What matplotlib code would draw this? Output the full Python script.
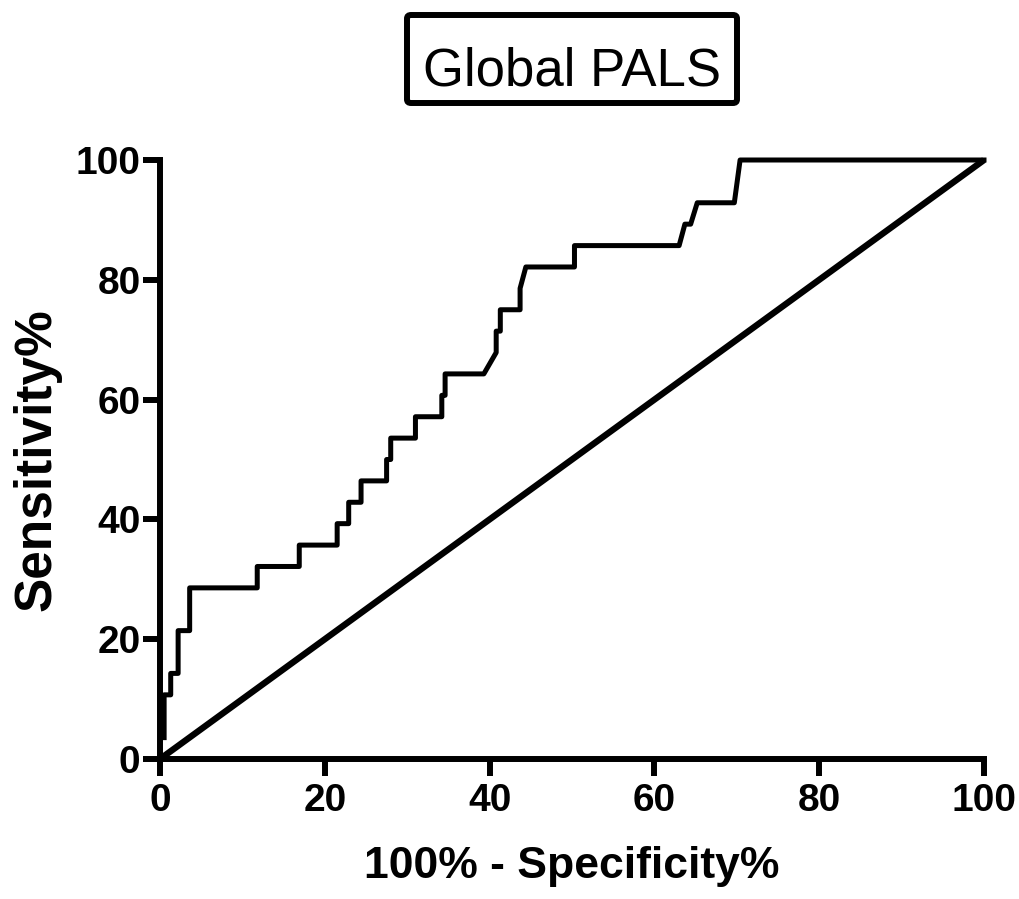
import matplotlib
matplotlib.use("Agg")
from matplotlib import pyplot as plt
from matplotlib.patches import FancyBboxPatch

# ROC curve points (100% - specificity, sensitivity)
fpr = [0.5, 0.5, 1.3, 1.3, 2.2, 2.2, 3.6, 3.6, 11.8, 11.8, 16.9, 16.9,
       21.5, 21.5, 22.9, 22.9, 24.4, 24.4, 27.5, 27.5, 28.0, 28.0, 31.0, 31.0,
       34.2, 34.2, 34.6, 34.6, 39.3, 40.8, 40.8, 41.3, 41.3, 43.7, 43.7, 44.4,
       50.3, 50.3, 63.0, 63.7, 64.4, 65.2, 69.7, 70.4, 100.0]
tpr = [3.57, 10.71, 10.71, 14.29, 14.29, 21.43, 21.43, 28.57, 28.57, 32.14,
       32.14, 35.71, 35.71, 39.29, 39.29, 42.86, 42.86, 46.43, 46.43, 50.0,
       50.0, 53.57, 53.57, 57.14, 57.14, 60.71, 60.71, 64.29, 64.29, 67.86,
       71.43, 71.43, 75.0, 75.0, 78.57, 82.14, 82.14, 85.71, 85.71, 89.29,
       89.29, 92.86, 92.86, 100.0, 100.0]
chance = [0, 100]
ticks = [0, 20, 40, 60, 80, 100]

W, H = 1019, 899
fig = plt.figure(figsize=(W / 100, H / 100), dpi=100)
ax = fig.add_axes([160 / W, 1 - 759 / H, (984 - 160) / W, (759 - 160) / H])

ax.plot(chance, chance, color="black", lw=4.6, clip_on=False,
        solid_capstyle="butt")
ax.plot(fpr, tpr, color="black", lw=3.6, clip_on=False)

ax.set_xlim(0, 100)
ax.set_ylim(0, 100)
ax.set_xticks(ticks)
ax.set_yticks(ticks)
for s in ["top", "right"]:
    ax.spines[s].set_visible(False)
for s in ["left", "bottom"]:
    ax.spines[s].set_linewidth(4.3)
    ax.spines[s].set_capstyle("projecting")
ax.tick_params(width=4.3, length=12, direction="out")
ax.tick_params(axis="y", pad=2)
ax.tick_params(axis="x", pad=5)
for lab in ax.get_xticklabels() + ax.get_yticklabels():
    lab.set_fontfamily("Liberation Sans")
    lab.set_fontweight("bold")
    lab.set_fontsize(28)

ax.set_xlabel("100% - Specificity%", fontsize=32, fontweight="bold",
              family="Liberation Sans", labelpad=20)
ax.set_ylabel("Sensitivity%", fontsize=37, fontweight="bold",
              family="Liberation Sans", labelpad=10)

# boxed title
box = FancyBboxPatch((407 / W, 1 - 103 / H), 330 / W, 88 / H,
                     boxstyle="round,pad=0,rounding_size=0.004",
                     transform=fig.transFigure, fc="white", ec="black",
                     lw=4.3)
fig.patches.append(box)
fig.text(572 / W, 1 - 85 / H, "Global PALS", fontsize=38,
         family="Liberation Sans", ha="center", va="baseline")

fig.savefig("out.png", dpi=100)
